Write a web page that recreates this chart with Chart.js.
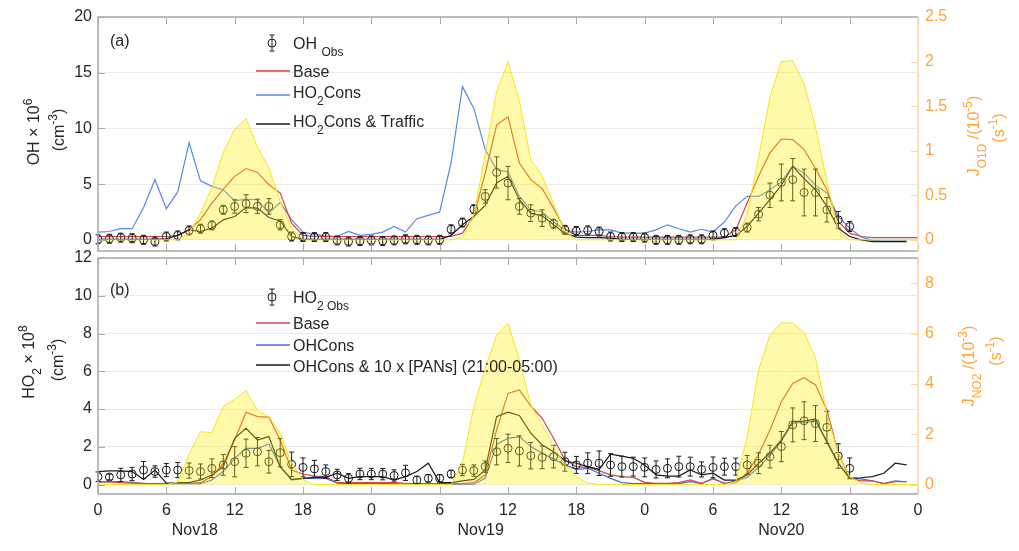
<!DOCTYPE html>
<html lang="en">
<head>
	<meta charset="UTF-8">
	<meta name="viewport" content="width=device-width, initial-scale=1.0">
	<title>OH and HO2, Nov18-Nov20</title>
	<script src="https://cdn.jsdelivr.net/npm/chart.js"></script>
	<style>
		body { margin: 0; background: #fff; }
		#wrap { position: relative; width: 1019px; height: 551px; }
		#wrap canvas { position: absolute; left: 0; top: 0; }
	</style>
</head>
<body>
	<div id="wrap">
		<canvas id="chartOH" width="1019" height="551"></canvas>
		<canvas id="chartHO2" width="1019" height="551"></canvas>
	</div>

	<script>
		// x axis: hours since Nov18 00:00
		const hourTicks = [0, 6, 12, 18, 24, 30, 36, 42, 48, 54, 60, 66, 72];
		const hourTickLabels = ['0', '6', '12', '18', '0', '6', '12', '18', '0', '6', '12', '18', '0'];
		const dayLabels = ['Nov18', 'Nov19', 'Nov20'];
		const dayLabelHours = [8.5, 33.6, 60];

		const ohTicks = [0, 5, 10, 15, 20];
		const jO1DTicks = [0, 0.5, 1, 1.5, 2, 2.5];
		const ho2Ticks = [0, 2, 4, 6, 8, 10, 12];
		const jNO2Ticks = [0, 2, 4, 6, 8];

		// (a) OH x 1e6 cm-3, one value per hour
		const ohObs = [0.05, 0.1, 0.2, 0.15, 0.0, -0.15, 0.3, 0.4, 0.85, 1.0,
			1.3, 2.7, 3.0, 3.25, 3.0, 3.0, 1.35, 0.3, 0.25, 0.25,
			0.25, -0.05, -0.15, -0.1, -0.05, -0.1, -0.05, 0.05, 0.0, -0.05,
			0.0, 0.95, 1.55, 2.75, 3.9, 6.05, 5.1, 3.0, 2.4, 1.95,
			1.45, 0.9, 0.8, 0.85, 0.75, 0.3, 0.25, 0.25, 0.2, 0.0,
			0.0, 0.0, 0.05, 0.05, 0.4, 0.6, 0.7, 1.1, 2.3, 4.0,
			5.15, 5.4, 4.25, 4.25, 2.7, 1.8, 1.2];
		const ohObsErr = [0.4, 0.4, 0.4, 0.4, 0.4, 0.4, 0.4, 0.4, 0.4, 0.4,
			0.4, 0.4, 0.6, 0.8, 0.65, 0.7, 0.45, 0.4, 0.4, 0.4,
			0.4, 0.4, 0.4, 0.4, 0.4, 0.4, 0.4, 0.4, 0.4, 0.4,
			0.4, 0.4, 0.4, 0.4, 0.6, 1.4, 1.5, 0.7, 0.75, 0.75,
			0.4, 0.4, 0.4, 0.4, 0.4, 0.4, 0.4, 0.4, 0.4, 0.4,
			0.4, 0.4, 0.4, 0.4, 0.4, 0.4, 0.4, 0.4, 0.6, 1.1,
			1.65, 1.9, 2.1, 2.1, 1.1, 0.75, 0.45];
		const ohBase = [0.3, 0.3, 0.3, 0.3, 0.3, 0.3, 0.3, 0.4, 0.9, 1.8,
			3.3, 4.55, 5.7, 6.4, 6.05, 4.95, 4.2, 1.5, 0.4, 0.3,
			0.3, 0.3, 0.3, 0.3, 0.3, 0.3, 0.3, 0.3, 0.3, 0.3,
			0.3, 0.3, 0.6, 2.1, 6.0, 10.3, 11.05, 6.9, 5.4, 4.6,
			2.85, 0.95, 0.4, 0.4, 0.4, 0.3, 0.25, 0.25, 0.25, 0.25,
			0.25, 0.25, 0.25, 0.25, 0.25, 0.25, 0.9, 3.3, 5.7, 7.8,
			9.05, 9.0, 8.1, 6.4, 4.5, 1.65, 0.6, 0.3, 0.2, 0.2,
			0.2, 0.2, 0.2];
		const ohHO2Cons = [0.7, 0.75, 1.0, 1.0, 2.9, 5.4, 2.8, 4.3, 8.7, 5.3,
			4.8, 4.5, 3.5, 3.65, 3.6, 2.4, 3.35, 1.8, 0.7, 0.5,
			0.35, 0.3, 0.75, 0.4, 0.5, 0.7, 1.2, 0.7, 1.9, 2.2,
			2.5, 6.9, 13.75, 11.8, 8.1, 6.3, 6.1, 3.9, 2.7, 2.5,
			1.6, 0.9, 0.7, 0.75, 0.9, 0.9, 0.6, 0.6, 0.6, 0.9,
			1.35, 1.0, 0.7, 0.95, 0.7, 1.6, 3.05, 3.9, 3.9, 4.5,
			5.2, 6.6, 6.0, 4.9, 4.2, 2.1, 1.05, 0.25, -0.05, -0.1,
			-0.1, -0.1];
		const ohTraffic = [0.05, 0.05, 0.05, 0.05, 0.05, 0.05, 0.1, 0.4, 0.9, 0.75,
			1.05, 1.8, 2.1, 2.9, 2.85, 2.0, 1.7, 0.3, 0.05, 0.05,
			0.05, 0.05, 0.05, 0.05, 0.05, 0.05, 0.05, 0.05, 0.05, 0.05,
			0.05, 0.4, 1.35, 2.1, 3.1, 5.1, 5.7, 3.6, 2.4, 2.15,
			1.35, 0.6, 0.25, 0.2, 0.2, 0.15, 0.05, 0.05, 0.05, 0.05,
			0.05, 0.05, 0.05, 0.05, 0.05, 0.2, 0.4, 1.2, 2.4, 3.6,
			4.9, 6.6, 5.5, 4.5, 3.0, 1.05, 0.3, 0.0, -0.15, -0.15,
			-0.15, -0.15];
		// J(O1D) x 1e-5 s-1
		const jO1D = [0, 0, 0, 0, 0, 0, 0, 0, 0.08, 0.3,
			0.59, 0.98, 1.24, 1.36, 1.04, 0.81, 0.43, 0.13, 0, 0,
			0, 0, 0, 0, 0, 0, 0, 0, 0, 0,
			0, 0, 0.03, 0.28, 0.96, 1.66, 2.0, 1.56, 0.9, 0.72,
			0.4, 0.1, 0, 0, 0, 0, 0, 0, 0, 0,
			0, 0, 0, 0, 0, 0, 0, 0.28, 0.92, 1.6,
			2.0, 2.01, 1.75, 1.26, 0.66, 0.1, 0, 0, 0, 0,
			0, 0, 0];

		// (b) HO2 x 1e8 cm-3
		const ho2Obs = [0.42, 0.4, 0.51, 0.56, 0.77, 0.69, 0.77, 0.77, 0.74, 0.69,
			0.86, 1.04, 1.21, 1.66, 1.74, 1.21, 1.69, 1.07, 0.91, 0.83,
			0.69, 0.51, 0.33, 0.56, 0.56, 0.55, 0.48, 0.62, 0.24, 0.33,
			0.33, 0.56, 0.77, 0.74, 0.95, 1.74, 1.92, 1.78, 1.53, 1.44,
			1.48, 1.21, 1.04, 1.13, 1.13, 1.04, 0.95, 0.95, 0.91, 0.8,
			0.86, 0.95, 0.95, 0.8, 0.91, 0.95, 0.95, 1.04, 1.13, 1.48,
			2.01, 3.16, 3.38, 3.23, 3.03, 1.51, 0.86];
		const ho2ObsErr = [0.25, 0.15, 0.35, 0.35, 0.45, 0.3, 0.35, 0.4, 0.4, 0.4,
			0.5, 0.55, 0.8, 0.75, 0.75, 0.6, 0.75, 0.65, 0.5, 0.45,
			0.35, 0.3, 0.25, 0.3, 0.3, 0.3, 0.3, 0.4, 0.2, 0.2,
			0.2, 0.2, 0.3, 0.3, 0.3, 0.7, 0.75, 0.8, 0.7, 0.6,
			0.6, 0.5, 0.45, 0.55, 0.65, 0.6, 0.55, 0.5, 0.5, 0.45,
			0.5, 0.55, 0.5, 0.4, 0.55, 0.45, 0.45, 0.5, 0.55, 0.6,
			0.8, 0.9, 1.0, 0.95, 0.85, 0.65, 0.55];
		const ho2Base = [0.14, 0.14, 0.1, 0.08, 0.07, 0.02, 0.07, 0.07, 0.07, 0.1,
			0.42, 1.12, 2.36, 3.83, 3.6, 3.57, 2.36, 0.77, 0.56, 0.45,
			0.42, 0.1, 0.1, 0.1, 0.1, 0.1, 0.1, 0.07, 0.05, 0.05,
			0.05, 0.05, 0.05, 0.1, 0.5, 2.9, 4.83, 5.01, 4.16, 3.51,
			2.45, 1.3, 0.95, 0.91, 0.74, 0.51, 0.42, 0.38, 0.12, 0.07,
			0.07, 0.1, 0.25, 0.07, 0.3, 0.07, 0.1, 0.6, 1.6, 2.89,
			4.39, 5.36, 5.66, 5.28, 3.95, 1.66, 0.33, 0.2, 0.2, 0.05,
			0.15, 0.15];
		const ho2OHCons = [0.14, 0.14, 0.14, 0.12, 0.05, 0.05, 0.05, 0.05, 0.05, 0.05,
			0.24, 0.69, 1.39, 1.92, 1.92, 2.15, 0.95, 0.24, 0.33, 0.33,
			0.33, 0.07, 0.05, 0.05, 0.05, 0.05, 0.05, 0.02, 0.02, 0.02,
			0.02, 0.02, 0.02, 0.02, 0.33, 2.13, 2.45, 2.54, 2.01, 1.66,
			1.36, 1.04, 0.81, 0.86, 0.6, 0.33, 0.1, 0.05, 0.05, 0.05,
			0.05, 0.05, 0.15, 0.05, 0.33, 0.05, 0.2, 0.38, 0.9, 1.55,
			2.3, 3.25, 3.3, 3.35, 2.3, 1.13, 0.36, 0.3, 0.2, 0.05,
			0.2, 0.15];
		const ho2PANs = [0.69, 0.72, 0.72, 0.69, 0.27, 0.77, 0.07, 0.1, 0.1, 0.24,
			0.51, 0.95, 2.45, 2.98, 2.36, 2.54, 0.95, 0.27, 0.33, 0.38,
			0.38, 0.6, 0.33, 0.42, 0.42, 0.42, 0.24, 0.42, 0.69, 1.13,
			0.1, 0.1, 0.2, 0.27, 0.77, 3.6, 3.83, 3.66, 2.72, 2.1,
			1.74, 1.26, 1.13, 0.95, 0.8, 1.61, 1.51, 1.39, 1.04, 0.51,
			0.45, 0.45, 0.77, 0.51, 0.6, 0.24, 0.24, 0.51, 1.13, 1.66,
			2.36, 3.33, 3.36, 3.48, 2.24, 1.13, 0.33, 0.36, 0.42, 0.6,
			1.13, 1.04];
		// J(NO2) x 1e-3 s-1
		const jNO2 = [0, 0, 0, 0, 0, 0, 0, 0.1, 1.2, 2.1,
			2.06, 3.1, 3.39, 3.73, 2.94, 2.7, 2.04, 0.85, 0.2, 0,
			0, 0, 0, 0, 0, 0, 0, 0, 0, 0,
			0, 0, 0.85, 3.1, 4.62, 5.94, 6.41, 4.95, 3.16, 2.37,
			1.51, 0.78, 0.31, 0.06, 0, 0, 0, 0, 0, 0,
			0, 0, 0, 0, 0, 0, 0.1, 1.9, 4.55, 5.94,
			6.43, 6.41, 6.04, 5.02, 2.83, 1.24, 0.31, 0.06, 0, 0,
			0, 0, 0];

		const pts = arr => arr.map((v, i) => ({x: i, y: v}));

		const FONT = 'Arial, "Liberation Sans", Helvetica, sans-serif';
		const TXT = '#262626';
		const ORANGE = '#ffa43a';
		const ORANGE_LINE = '#ffd6a8';
		const BOX = '#a8a8a8';
		const RED = '#d8463c';
		const BLUE_A = '#5587ec';
		const BLUE_B = '#3f6fe3';
		const BLACK = '#1a1a1a';
		const YEL_FILL = 'rgba(255, 240, 0, 0.33)';
		const YEL_EDGE = '#f5e61a';

		// text with sub/superscripts: parts like ['HO', ['2', 'sub'], 'Cons']
		function scriptWidth(ctx, parts, size) {
			let w = 0;
			parts.forEach(p => {
				const [t, kind] = Array.isArray(p) ? p : [p, null];
				ctx.font = (kind ? Math.round(size * 0.75) : size) + 'px ' + FONT;
				w += ctx.measureText(t).width;
			});
			return w;
		}
		function drawScript(ctx, parts, x, y, size, color) {
			let cx = x;
			ctx.fillStyle = color;
			ctx.textAlign = 'left';
			ctx.textBaseline = 'alphabetic';
			parts.forEach(p => {
				const [t, kind] = Array.isArray(p) ? p : [p, null];
				ctx.font = (kind ? Math.round(size * 0.75) : size) + 'px ' + FONT;
				const dy = kind === 'sub' ? size * 0.45 : (kind === 'sup' ? -size * 0.45 : 0);
				ctx.fillText(t, cx, y + dy);
				cx += ctx.measureText(t).width;
			});
		}
		function drawUpright(ctx, parts, cx, cy, size, color) {
			const w = scriptWidth(ctx, parts, size);
			ctx.save();
			ctx.translate(cx, cy);
			ctx.rotate(-Math.PI / 2);
			drawScript(ctx, parts, -w / 2, size * 0.36, size, color);
			ctx.restore();
		}
		function errMarker(ctx, x, y, lo, hi) {
			ctx.beginPath();
			ctx.moveTo(x, lo); ctx.lineTo(x, hi);
			ctx.moveTo(x - 2.5, lo); ctx.lineTo(x + 2.5, lo);
			ctx.moveTo(x - 2.5, hi); ctx.lineTo(x + 2.5, hi);
			ctx.stroke();
		}

		function panelPlugin(p) {
			return {
				id: 'panel_' + p.name,
				afterDatasetDraw(chart, args) {
					const ds = chart.data.datasets[args.index];
					if (!ds.errors) return;
					const ctx = chart.ctx, yl = chart.scales.yL;
					ctx.save();
					ctx.strokeStyle = BLACK;
					ctx.lineWidth = 1;
					args.meta.data.forEach((pt, i) => {
						const v = ds.data[i].y, e = ds.errors[i];
						errMarker(ctx, pt.x, pt.y, yl.getPixelForValue(v - e), yl.getPixelForValue(v + e));
					});
					ctx.restore();
				},
				afterDraw(chart) {
					const ctx = chart.ctx;
					const a = chart.chartArea;
					const xs = chart.scales.x, yl = chart.scales.yL, yr = chart.scales.yR;
					ctx.save();
					// inward ticks
					ctx.lineWidth = 1;
					ctx.strokeStyle = BOX;
					ctx.beginPath();
					hourTicks.forEach(h => {
						const px = Math.round(xs.getPixelForValue(h)) + 0.5;
						ctx.moveTo(px, a.bottom); ctx.lineTo(px, a.bottom - 7);
						ctx.moveTo(px, a.top); ctx.lineTo(px, a.top + 7);
					});
					p.leftTicks.forEach(v => {
						const py = Math.round(yl.getPixelForValue(v)) + 0.5;
						ctx.moveTo(a.left, py); ctx.lineTo(a.left + 7, py);
					});
					ctx.stroke();
					ctx.strokeStyle = ORANGE_LINE;
					ctx.beginPath();
					p.rightTicks.forEach(v => {
						const py = Math.round(yr.getPixelForValue(v)) + 0.5;
						ctx.moveTo(a.right, py); ctx.lineTo(a.right - 7, py);
					});
					ctx.stroke();
					// box
					ctx.lineWidth = 1.5;
					ctx.strokeStyle = BOX;
					ctx.beginPath();
					ctx.moveTo(a.right, a.top); ctx.lineTo(a.left, a.top);
					ctx.lineTo(a.left, a.bottom); ctx.lineTo(a.right, a.bottom);
					ctx.stroke();
					ctx.strokeStyle = ORANGE_LINE;
					ctx.beginPath();
					ctx.moveTo(a.right, a.top); ctx.lineTo(a.right, a.bottom);
					ctx.stroke();

					// panel tag
					ctx.fillStyle = TXT;
					ctx.font = '16px ' + FONT;
					ctx.textAlign = 'left';
					ctx.textBaseline = 'alphabetic';
					ctx.fillText(p.tag, 110, p.tagY);

					// legend
					p.legend.forEach(it => {
						if (it.obs) {
							ctx.strokeStyle = BLACK;
							ctx.lineWidth = 1;
							ctx.beginPath();
							ctx.arc(272, it.y, 4, 0, Math.PI * 2);
							ctx.stroke();
							errMarker(ctx, 272, it.y, it.y + 8, it.y - 8);
						} else {
							ctx.strokeStyle = it.color;
							ctx.lineWidth = 1.3;
							ctx.beginPath();
							ctx.moveTo(256, it.y); ctx.lineTo(290, it.y);
							ctx.stroke();
						}
						drawScript(ctx, it.parts, 293, it.base, 16, TXT);
					});

					// axis titles
					p.titles.forEach(t => drawUpright(ctx, t.parts, t.x, t.y, 16, t.color));

					// day names under the hour ticks
					if (p.showX) {
						ctx.fillStyle = TXT;
						ctx.font = '16px ' + FONT;
						ctx.textAlign = 'center';
						ctx.textBaseline = 'middle';
						dayLabels.forEach((d, i) => ctx.fillText(d, xs.getPixelForValue(dayLabelHours[i]), 531));
					}
					ctx.restore();
				}
			};
		}

		function makePanel(id, p) {
			const tickFont = {family: FONT, size: 16};
			return new Chart(document.getElementById(id), {
				type: 'line',
				data: {datasets: p.datasets},
				options: {
					responsive: false,
					animation: false,
					events: [],
					layout: {padding: {top: p.top, left: 0, right: 0, bottom: 0}},
					elements: {line: {tension: 0}},
					plugins: {legend: {display: false}, tooltip: {enabled: false}},
					scales: {
						x: {
							type: 'linear', min: 0, max: 72,
							afterBuildTicks: s => { s.ticks = hourTicks.map(v => ({value: v})); },
							afterFit: s => { s.height = 551 - p.bottom; },
							grid: {display: false, drawTicks: false},
							border: {display: false},
							ticks: {display: p.showX, padding: 7, font: tickFont, color: TXT, maxRotation: 0, autoSkip: false,
								callback: (v, i) => hourTickLabels[i]}
						},
						yL: {
							position: 'left', min: p.leftMin, max: p.leftMax,
							afterBuildTicks: s => { s.ticks = p.leftTicks.map(v => ({value: v})); },
							afterFit: s => { s.width = 98; },
							grid: {color: '#ebebeb', drawTicks: false},
							border: {display: false},
							ticks: {padding: 6, font: tickFont, color: TXT, callback: v => String(v)}
						},
						yR: {
							position: 'right', min: p.rightMin, max: p.rightMax,
							afterBuildTicks: s => { s.ticks = p.rightTicks.map(v => ({value: v})); },
							afterFit: s => { s.width = 101; },
							grid: {display: false, drawTicks: false},
							border: {display: false},
							ticks: {padding: 7, font: tickFont, color: ORANGE, callback: v => String(v)}
						}
					}
				},
				plugins: [panelPlugin(p)]
			});
		}

		const line = (label, data, color, order) => ({
			label: label, data: pts(data), yAxisID: 'yL', borderColor: color, borderWidth: 1.2,
			pointRadius: 0, fill: false, order: order
		});
		const obs = (label, data, errs) => ({
			label: label, data: pts(data), yAxisID: 'yL', showLine: false, pointRadius: 4,
			pointBorderWidth: 1, pointBorderColor: BLACK, pointBackgroundColor: 'rgba(0,0,0,0)',
			errors: errs, order: 1
		});
		const sun = (label, data) => ({
			label: label, data: pts(data), yAxisID: 'yR', borderColor: YEL_EDGE, borderWidth: 1,
			backgroundColor: YEL_FILL, fill: 'origin', pointRadius: 0, order: 0
		});

		makePanel('chartOH', {
			name: 'a', tag: '(a)', tagY: 46, top: 17, bottom: 251, showX: false,
			leftMin: -1, leftMax: 20, leftTicks: ohTicks,
			rightMin: -0.125, rightMax: 2.5, rightTicks: jO1DTicks,
			datasets: [
				sun('J O1D', jO1D),
				obs('OH Obs', ohObs, ohObsErr),
				line('HO2Cons & Traffic', ohTraffic, BLACK, 2),
				line('Base', ohBase, RED, 3),
				line('HO2Cons', ohHO2Cons, BLUE_A, 4)
			],
			legend: [
				{obs: true, y: 43, base: 49, parts: ['OH ', ['Obs', 'sub']]},
				{color: RED, y: 71, base: 77, parts: ['Base']},
				{color: BLUE_A, y: 95, base: 98, parts: ['HO', ['2', 'sub'], 'Cons']},
				{color: BLACK, y: 124, base: 127, parts: ['HO', ['2', 'sub'], 'Cons & Traffic']}
			],
			titles: [
				{parts: ['OH × 10', ['6', 'sup']], x: 33, y: 132, color: TXT},
				{parts: ['(cm', ['-3', 'sup'], ')'], x: 58, y: 130, color: TXT},
				{parts: ['J', ['O1D', 'sub'], ' /(10', ['-5', 'sup'], ')'], x: 973, y: 136, color: ORANGE},
				{parts: ['(s', ['-1', 'sup'], ')'], x: 998, y: 128, color: ORANGE}
			]
		});

		makePanel('chartHO2', {
			name: 'b', tag: '(b)', tagY: 295, top: 258, bottom: 494, showX: true,
			leftMin: -0.5, leftMax: 12, leftTicks: ho2Ticks,
			rightMin: -0.375, rightMax: 9, rightTicks: jNO2Ticks,
			datasets: [
				sun('J NO2', jNO2),
				obs('HO2 Obs', ho2Obs, ho2ObsErr),
				line('OHCons & 10 x [PANs] (21:00-05:00)', ho2PANs, BLACK, 2),
				line('Base', ho2Base, RED, 3),
				line('OHCons', ho2OHCons, BLUE_B, 4)
			],
			legend: [
				{obs: true, y: 297, base: 303, parts: ['HO', ['2 Obs', 'sub']]},
				{color: RED, y: 323, base: 329, parts: ['Base']},
				{color: BLUE_B, y: 345, base: 351, parts: ['OHCons']},
				{color: BLACK, y: 365, base: 372, parts: ['OHCons & 10 x [PANs] (21:00-05:00)']}
			],
			titles: [
				{parts: ['HO', ['2', 'sub'], ' × 10', ['8', 'sup']], x: 28, y: 362, color: TXT},
				{parts: ['(cm', ['-3', 'sup'], ')'], x: 57, y: 360, color: TXT},
				{parts: ['J', ['NO2', 'sub'], ' /(10', ['-3', 'sup'], ')'], x: 968, y: 366, color: ORANGE},
				{parts: ['(s', ['-1', 'sup'], ')'], x: 995, y: 351, color: ORANGE}
			]
		});
	</script>
</body>
</html>
